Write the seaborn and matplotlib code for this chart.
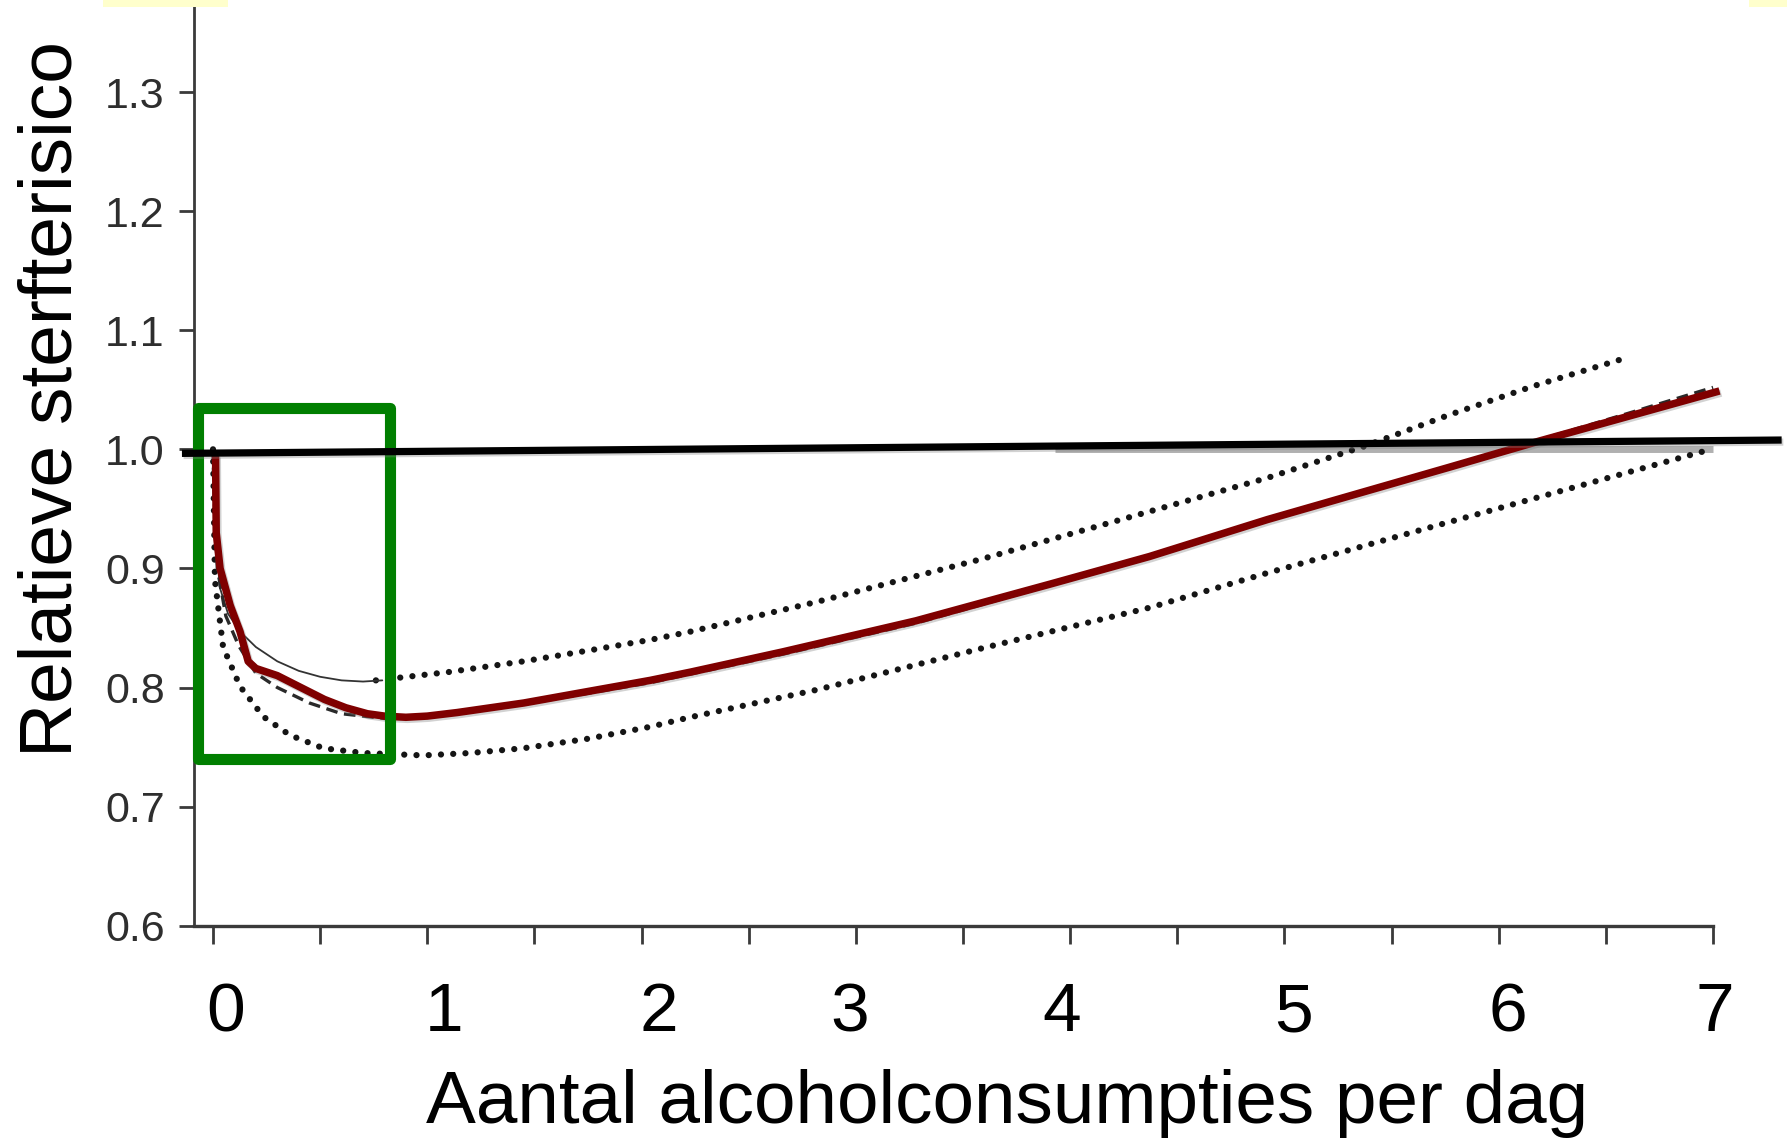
import numpy as np
import pandas as pd
import matplotlib
matplotlib.use("Agg")
import matplotlib.pyplot as plt
import matplotlib.patheffects as pe
from matplotlib.patches import Rectangle
import seaborn as sns

# ---------------- data ----------------
# main (red) curve: relative mortality risk vs drinks per day
red_x = [0.012, 0.015, 0.033, 0.08, 0.126, 0.164, 0.20, 0.30, 0.41, 0.52, 0.62, 0.72, 0.80, 0.90,
         1.00, 1.14, 1.45, 1.76, 2.04, 2.23, 2.66, 3.28, 3.91, 4.37, 4.92, 5.77, 6.19, 7.03]
red_y = [0.995, 0.930, 0.900, 0.869, 0.847, 0.822, 0.816, 0.810, 0.800, 0.790, 0.783, 0.778, 0.776, 0.775,
         0.776, 0.779, 0.787, 0.797, 0.806, 0.813, 0.830, 0.856, 0.887, 0.910, 0.941, 0.985, 1.007, 1.049]

# dashed point estimate (original chart)
est_x = [0.0, 0.005, 0.02, 0.06, 0.12, 0.20, 0.30, 0.45, 0.60, 0.80, 1.00, 1.45, 2.04, 2.66,
         3.28, 3.91, 4.37, 4.92, 5.77, 6.19, 6.60, 7.00]
est_y = [1.000, 0.960, 0.900, 0.860, 0.835, 0.812, 0.800, 0.787, 0.778, 0.774, 0.775, 0.786, 0.804, 0.828,
         0.854, 0.886, 0.909, 0.941, 0.985, 1.008, 1.030, 1.052]

# upper confidence band: thin solid start, dotted remainder
upper_solid_x = [0.0, 0.01, 0.03, 0.07, 0.126, 0.20, 0.30, 0.40, 0.50, 0.60, 0.70, 0.79]
upper_solid_y = [1.000, 0.950, 0.885, 0.862, 0.847, 0.834, 0.822, 0.814, 0.809, 0.806, 0.805, 0.806]
upper_x = [0.76, 1.10, 1.45, 1.75, 2.04, 2.23, 2.82, 3.59, 4.14, 4.92, 5.38, 5.77, 6.16, 6.58]
upper_y = [0.806, 0.813, 0.822, 0.831, 0.840, 0.847, 0.872, 0.908, 0.936, 0.976, 1.003, 1.029, 1.053, 1.076]

# lower confidence band (dotted)
lower_x = [0.0, 0.009, 0.047, 0.126, 0.235, 0.359, 0.515, 0.701, 0.981, 1.20, 1.448, 1.75, 2.04, 2.226,
           2.816, 3.59, 4.14, 4.37, 4.917, 5.69, 6.33, 6.97]
lower_y = [1.000, 0.890, 0.834, 0.801, 0.7755, 0.760, 0.749, 0.745, 0.743, 0.745, 0.749, 0.757, 0.767, 0.775,
           0.798, 0.833, 0.857, 0.867, 0.896, 0.935, 0.967, 0.999]

# reference lines
ref_gray_x = [3.93, 7.0]
ref_gray_y = [1.0, 1.0]
ref_black_x = [-0.145, 7.32]
ref_black_y = [0.9966, 1.0078]

# highlight box (x0, x1, y0, y1)
box_x = [-0.068, 0.826]
box_y = [0.740, 1.0347]

# ticks and labels
y_ticks = [0.6, 0.7, 0.8, 0.9, 1.0, 1.1, 1.2, 1.3]
x_minor_ticks = [0.0, 0.5, 1.0, 1.5, 2.0, 2.5, 3.0, 3.5, 4.0, 4.5, 5.0, 5.5, 6.0, 6.5, 7.0]
x_tick_labels = ["0", "1", "2", "3", "4", "5", "6", "7"]
x_label_pos = [0.06, 1.08, 2.08, 2.97, 3.96, 5.04, 6.04, 7.01]
x_title = "Aantal alcoholconsumpties per dag"
y_title = "Relatieve sterfterisico"

# ---------------- style ----------------
sns.set_theme(style="white")
plt.rcParams['font.family'] = ['Liberation Sans', 'DejaVu Sans']

W, H = 1787, 1140
fig = plt.figure(figsize=(W / 100, H / 100), dpi=100)
fig.patch.set_facecolor("white")

ax_left, ax_bottom, ax_top = 194, 214.3, 7
ax = fig.add_axes([ax_left / W, ax_bottom / H, (W - ax_left) / W, (H - ax_top - ax_bottom) / H])
ax.set_facecolor("white")
ax.set_xlim(-0.0887, 7.345)
ax.set_ylim(0.6, 1.3714)

shadow = [pe.SimpleLineShadow(offset=(1.2, -1.5), shadow_color="gray", alpha=0.35), pe.Normal()]

# gray original reference line at 1.0
sns.lineplot(x=ref_gray_x, y=ref_gray_y, ax=ax, color="#b0b0b0", lw=5, zorder=2,
             solid_capstyle="butt")

# confidence bands
dot_style = dict(color="#151515", lw=4.5, linestyle=(0, (0.01, 1.95)),
                 dash_capstyle="round", zorder=3)
sns.lineplot(x=upper_x, y=upper_y, ax=ax, **dot_style)
sns.lineplot(x=lower_x, y=lower_y, ax=ax, **dot_style)
sns.lineplot(x=upper_solid_x, y=upper_solid_y, ax=ax, color="#333333", lw=1.3, zorder=3)

# dashed estimate
sns.lineplot(x=est_x, y=est_y, ax=ax, color="#2a2a2a", lw=2.4, linestyle=(0, (3.5, 2.0)), zorder=4)

# red curve
sns.lineplot(x=red_x, y=red_y, ax=ax, color="#7f0000", lw=5.4, zorder=5,
             solid_capstyle="butt", solid_joinstyle="round", path_effects=shadow)

# green highlight box
rect = Rectangle((box_x[0], box_y[0]), box_x[1] - box_x[0], box_y[1] - box_y[0],
                 fill=False, edgecolor="#007f00", lw=8, joinstyle="round", zorder=6,
                 clip_on=False)
ax.add_patch(rect)

# black horizontal line
sns.lineplot(x=ref_black_x, y=ref_black_y, ax=ax, color="black", lw=5.2, zorder=7,
             clip_on=False, solid_capstyle="butt", path_effects=shadow)

# ---------------- axes styling ----------------
for s in ["top", "right"]:
    ax.spines[s].set_visible(False)
ax.spines["left"].set_color("#3a3a3a")
ax.spines["left"].set_linewidth(2.0)
ax.spines["bottom"].set_color("#3a3a3a")
ax.spines["bottom"].set_linewidth(2.4)
ax.spines["bottom"].set_bounds(-0.0887, 7.0)

ax.set_yticks(y_ticks)
ax.set_yticklabels([f"{v:.1f}" for v in y_ticks])
ax.tick_params(axis="y", direction="out", length=11, width=2, color="#3a3a3a",
               pad=10, labelsize=31, labelcolor="#2e2e2e", left=True)

ax.set_xticks(x_label_pos)
ax.set_xticklabels(x_tick_labels)
ax.set_xticks(x_minor_ticks, minor=True)
ax.tick_params(axis="x", which="major", length=0, pad=40, labelsize=50, labelcolor="black")
ax.tick_params(axis="x", which="minor", direction="out", length=13, width=2,
               color="#3a3a3a", bottom=True)
ax.grid(False)
ax.set_xlabel("")
ax.set_ylabel("")

fig.text(1007 / W, (H - 1123) / H, x_title, ha="center", va="baseline",
         fontsize=53.8, color="black")
fig.text(72 / W, 1 - 399 / H, y_title, rotation=90, rotation_mode="anchor",
         ha="center", va="baseline", fontsize=54, color="black")

# light yellow strips at the top edge
fig.add_artist(Rectangle((103 / W, 1 - 7 / H), 125 / W, 7 / H, transform=fig.transFigure,
                         facecolor="#ffffcc", edgecolor="none"))
fig.add_artist(Rectangle((1749 / W, 1 - 7 / H), 38 / W, 7 / H, transform=fig.transFigure,
                         facecolor="#ffffcc", edgecolor="none"))

fig.savefig("out.png", dpi=100, facecolor="white")
